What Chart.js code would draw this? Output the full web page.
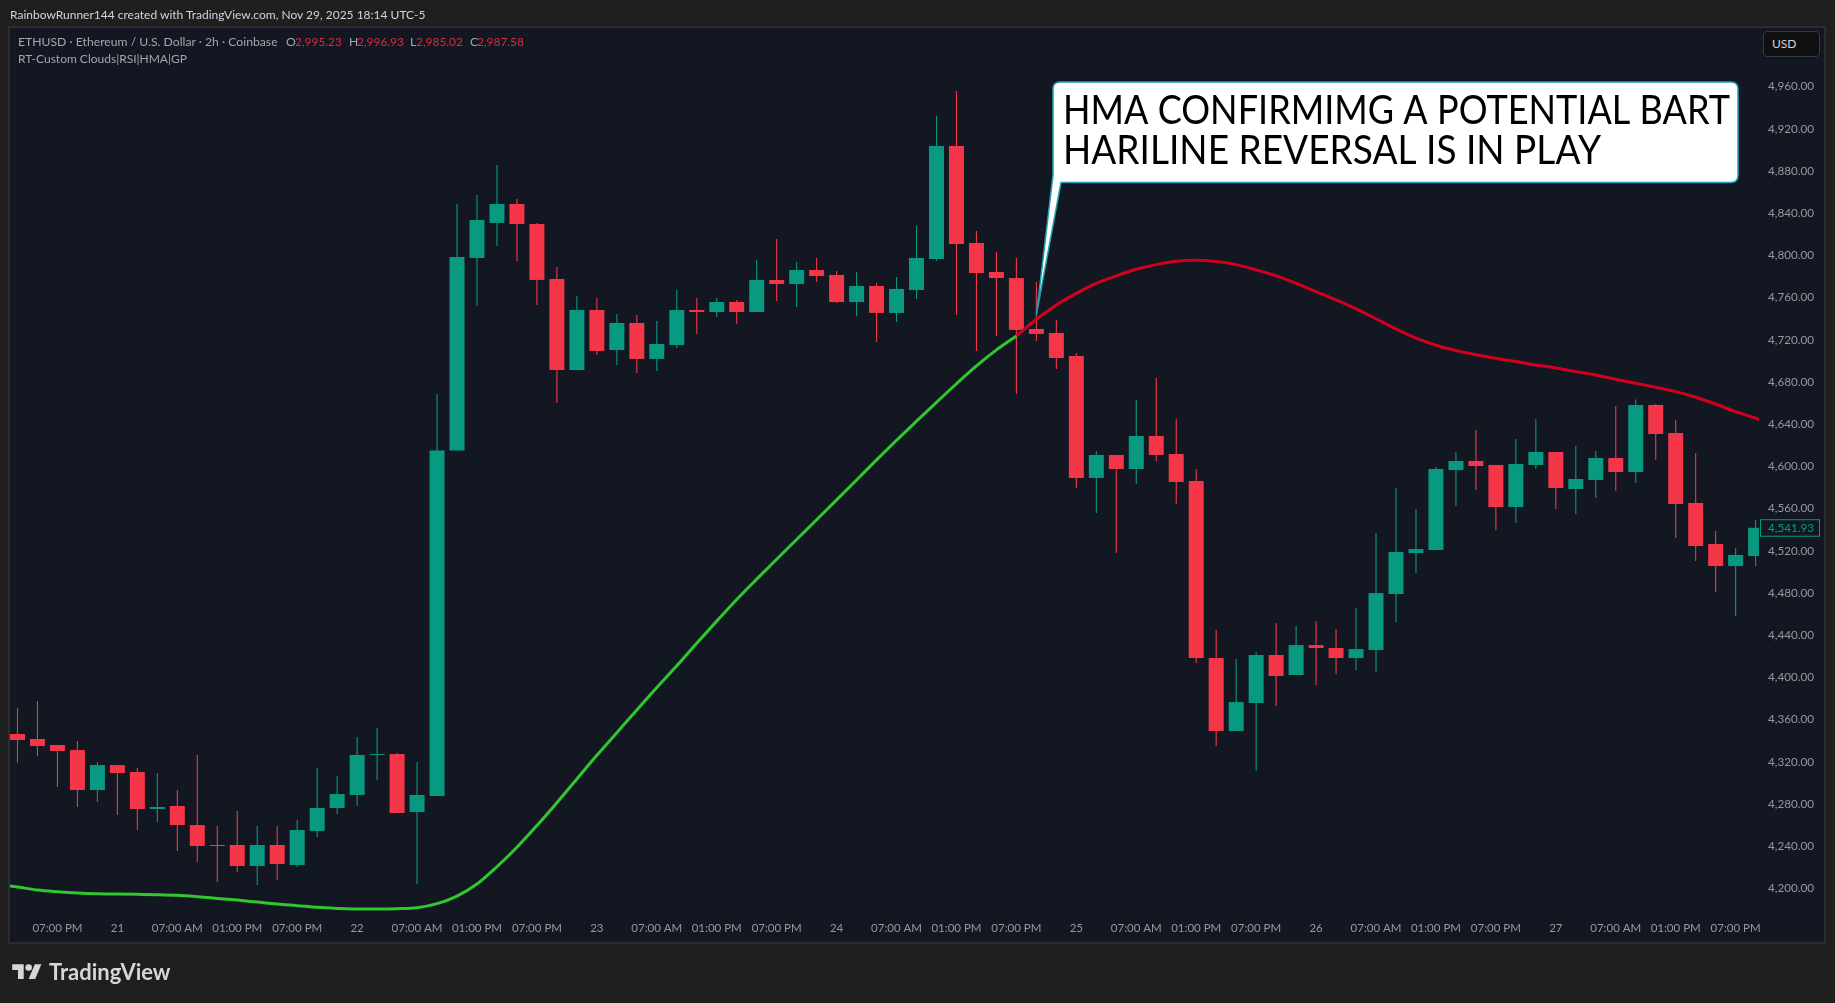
<!DOCTYPE html>
<html>
<head>
<meta charset="utf-8">
<title>ETHUSD 2h</title>
<script src="https://cdn.jsdelivr.net/npm/chart.js@4"></script>
<style>
  html, body { margin: 0; padding: 0; background: #1f1f1f; width: 1835px; height: 1003px; overflow: hidden; }
  body { font-family: Lato, sans-serif; position: relative; }
  canvas { position: absolute; left: 0; top: 0; }
  .txt { position: absolute; white-space: pre; line-height: 16px; }
  #author { left: 10px; top: 7px; font-size: 12px; color: #d1d4dc; }
  .leg { top: 34px; font-size: 12.2px; color: #a3a6af; }
  .val { top: 34px; font-size: 11.9px; color: #d92d3e; }
  #legend2 { left: 18px; top: 51px; font-size: 12px; color: #a3a6af; }
  #usd { left: 1763px; top: 31px; width: 57px; height: 26px; box-sizing: border-box; background: #0f0f0f; border: 1px solid #363a45; border-radius: 4px; color: #d1d4dc; font-size: 12px; line-height: 24px; padding-left: 8px; }
  #brand { left: 49px; top: 960px; font-size: 22px; line-height: 24px; font-weight: 700; color: #d6d6d6; }
  #logo { position: absolute; left: 12px; top: 961px; }
</style>
</head>
<body>
<canvas id="chart" width="1835" height="1003"></canvas>
<div class="txt" id="author">RainbowRunner144 created with TradingView.com, Nov 29, 2025 18:14 UTC-5</div>
<div class="txt leg" style="left:18px">ETHUSD · Ethereum / U.S. Dollar · 2h · Coinbase</div>
<div class="txt leg" style="left:286px">O</div><div class="txt val" style="left:295px">2,995.23</div>
<div class="txt leg" style="left:349px">H</div><div class="txt val" style="left:357px">2,996.93</div>
<div class="txt leg" style="left:410px">L</div><div class="txt val" style="left:416px">2,985.02</div>
<div class="txt leg" style="left:470px">C</div><div class="txt val" style="left:477px">2,987.58</div>
<div class="txt" id="legend2">RT-Custom Clouds|RSI|HMA|GP</div>
<div class="txt" id="usd">USD</div>
<svg id="logo" width="30" height="23" viewBox="0 0 36 28" fill="#d6d6d6"><path d="M14 22H7V11H0V4h14v18zM28 22h-8l7.5-18h8L28 22z"/><circle cx="20" cy="8" r="4"/></svg>
<div class="txt" id="brand">TradingView</div>
<script>
const opens = [4346.4,4341.7,4336.0,4331.2,4293.3,4317.0,4310.4,4275.3,4278.2,4260.1,4241.2,4241.2,4221.3,4241.2,4222.2,4254.4,4276.3,4288.6,4326.5,4327.4,4272.5,4287.6,
  4615.1,4797.6,4830.8,4848.8,4829.8,4777.7,4691.4,4748.3,4710.4,4736.0,4701.9,4715.1,4748.3,4746.4,4755.9,4746.4,4776.8,4773.0,
  4786.2,4781.5,4755.9,4771.1,4745.5,4767.3,4796.6,4903.8,4811.8,4784.3,4778.6,4730.3,
  4726.5,4704.7,4589.1,4610.9,4597.6,4628.9,4611.8,4586.2,4418.4,4349.2,4375.8,4421.3,4402.3,4430.7,4427.9,4418.4,4426.0,4479.1,4517.9,4520.8,4596.6,
  4605.2,4601.4,4561.6,4601.4,4613.7,4578.6,4587.2,4608.0,4594.7,4658.3,4631.7,4565.4,4526.5,4505.6,4515.1];
const highs = [4371.1,4377.7,4336.0,4339.8,4319.9,4317.0,4314.2,4309.4,4293.3,4326.5,4259.2,4273.4,4259.2,4259.2,4264.9,4314.2,4306.6,4343.6,4352.1,4328.4,4319.9,4668.7,
  4848.8,4857.3,4885.8,4853.5,4830.8,4789.1,4761.6,4759.7,4744.5,4743.6,4737.9,4767.3,4759.7,4759.7,4757.8,4795.7,4815.6,4793.8,
  4797.6,4785.3,4784.3,4773.9,4779.6,4827.9,4932.2,4955.9,4823.2,4803.3,4797.6,4774.9,
  4738.8,4707.6,4614.7,4610.9,4663.0,4683.9,4645.0,4597.6,4445.0,4417.5,4424.1,4451.6,4448.8,4453.5,4445.9,4465.8,4536.9,4579.6,4559.7,4599.5,4613.7,
  4634.6,4601.4,4626.0,4645.0,4613.7,4619.4,4614.7,4657.3,4663.5,4659.2,4644.0,4612.8,4538.8,4522.7,4549.2];
const lows = [4319.2,4325.6,4296.2,4277.2,4281.9,4269.6,4255.4,4263.0,4235.5,4225.1,4206.1,4215.6,4203.3,4208.0,4220.3,4248.8,4270.6,4278.2,4302.8,4271.5,4204.2,4287.6,
  4615.1,4752.1,4809.0,4794.8,4753.1,4660.2,4691.4,4705.7,4696.2,4688.6,4690.5,4712.3,4725.6,4741.7,4735.0,4746.4,4756.9,4751.2,
  4774.9,4754.9,4742.6,4718.0,4736.9,4758.7,4794.8,4743.6,4709.4,4723.7,4668.7,4719.0,
  4692.4,4579.6,4555.9,4517.9,4583.4,4605.2,4564.4,4413.7,4335.0,4349.2,4311.3,4372.9,4402.3,4392.8,4403.3,4407.0,4405.1,4452.5,4499.0,4520.8,4562.5,
  4577.7,4539.8,4546.4,4597.6,4559.7,4554.9,4570.1,4576.7,4584.3,4606.1,4532.2,4510.4,4481.0,4458.2,4505.6];
const closes = [4340.7,4335.0,4330.3,4293.3,4317.0,4309.4,4275.3,4277.2,4260.1,4240.2,4240.2,4221.3,4241.2,4223.2,4255.4,4276.3,4289.5,4326.5,4327.4,4271.5,4288.6,4615.1,
  4798.6,4833.6,4848.8,4829.8,4776.8,4691.4,4748.3,4709.5,4736.0,4701.9,4716.1,4748.3,4746.4,4755.9,4746.4,4776.8,4773.0,4786.2,
  4780.5,4755.9,4771.1,4745.5,4768.2,4797.6,4903.8,4810.9,4783.4,4778.6,4729.4,4725.6,
  4702.8,4589.1,4610.9,4597.6,4628.9,4610.9,4585.3,4418.4,4349.2,4376.7,4421.3,4401.4,4430.7,4427.9,4418.4,4426.9,4480.0,4518.9,4521.7,4597.6,4605.2,
  4600.4,4561.6,4602.3,4613.7,4579.6,4588.1,4608.0,4594.7,4658.3,4630.8,4564.4,4524.6,4505.6,4516.1,4541.9];

// HMA, green part starts one bar before the first candle, red part starts at bar 50
const hmaUp = [4203.6,4201.4,4198.5,4196.9,4195.7,4195.0,4194.7,4194.4,4194.1,4193.5,4192.2,4190.6,4189.0,4187.1,4185.2,4183.7,4182.1,4181.1,4180.5,4180.5,4180.8,4181.8,
  4185.6,4192.8,4204.2,4220.6,4239.1,4259.6,4281.3,4303.8,4326.2,4347.7,4369.2,4390.4,4411.0,4432.4,4453.4,4473.9,4493.2,4512.1,4530.8,4549.5,4568.3,4587.2,4606.2,4624.8,4642.9,4660.8,4678.4,4695.3,4710.5,4723.7];
const hmaDown = [4723.7,4739.5,4753.1,4764.1,4773.6,4780.6,4786.9,4791.3,4794.5,4795.4,4794.2,4791.3,4786.3,4780.6,4773.6,4765.7,4757.8,4749.4,4740.0,4730.4,
  4721.6,4714.9,4709.9,4705.9,4702.5,4699.4,4696.2,4693.4,4689.9,4686.7,4682.6,4678.8,4675.0,4670.9,4665.6,4659.2,4652.0,4645.7,4640.0];

const priceTicks = [4960,4920,4880,4840,4800,4760,4720,4680,4640,4600,4560,4520,4480,4440,4400,4360,4320,4280,4240,4200];
const timeLabels = ['07:00 PM','21','07:00 AM','01:00 PM','07:00 PM','22','07:00 AM','01:00 PM','07:00 PM','23','07:00 AM','01:00 PM','07:00 PM','24','07:00 AM','01:00 PM','07:00 PM','25','07:00 AM','01:00 PM','07:00 PM','26','07:00 AM','01:00 PM','07:00 PM','27','07:00 AM','01:00 PM','07:00 PM'];
const lastPrice = 4541.93;

const UP = '#089981', DOWN = '#F43648';
const candleColors = closes.map((c, i) => c >= opens[i] ? UP : DOWN);
const PANE = '#121722';
const FONT = 'Lato';

// pane background and border behind everything
const paneBg = {
  id: 'paneBg',
  beforeDraw(chart) {
    const c = chart.ctx;
    c.save();
    c.fillStyle = PANE;
    c.fillRect(10, 28, 1814, 914);
    c.strokeStyle = '#2c2c2c';
    c.lineWidth = 2;
    c.strokeRect(9, 27, 1816, 916);
    c.restore();
  }
};

// speech bubble pointing at the HMA turn + last price tag
const overlays = {
  id: 'overlays',
  afterDraw(chart) {
    const c = chart.ctx, sx = chart.scales.x, sy = chart.scales.y;
    const tipX = sx.getPixelForValue(51), tipY = sy.getPixelForValue(4743.6);
    const l = 1053, t = 82, r = 1738, b = 182.5, rad = 7;
    c.save();
    c.beginPath();
    c.moveTo(l + rad, t);
    c.lineTo(r - rad, t);
    c.quadraticCurveTo(r, t, r, t + rad);
    c.lineTo(r, b - rad);
    c.quadraticCurveTo(r, b, r - rad, b);
    c.lineTo(1061, b);
    c.lineTo(tipX, tipY);
    c.lineTo(l, 175);
    c.lineTo(l, t + rad);
    c.quadraticCurveTo(l, t, l + rad, t);
    c.closePath();
    c.fillStyle = '#ffffff';
    c.fill();
    c.strokeStyle = '#1f9eb3';
    c.lineWidth = 1.5;
    c.stroke();

    c.fillStyle = '#000000';
    c.font = '40px ' + FONT;
    c.textBaseline = 'alphabetic';
    c.textAlign = 'left';
    c.fillText('HMA CONFIRMIMG A POTENTIAL BART', 1063, 123.5, 667);
    c.fillText('HARILINE REVERSAL IS IN PLAY', 1063, 163.5, 538);

    // last price tag
    const y = sy.getPixelForValue(lastPrice);
    c.fillStyle = PANE;
    c.fillRect(1760.5, y - 8, 59, 16.5);
    c.strokeStyle = UP;
    c.lineWidth = 1;
    c.strokeRect(1760.5, y - 8, 59, 16.5);
    c.fillStyle = UP;
    c.font = '11.7px ' + FONT;
    c.textBaseline = 'middle';
    c.fillText(lastPrice.toLocaleString('en-US', { minimumFractionDigits: 2 }), 1768, y + 0.5);
    c.restore();
  }
};

new Chart(document.getElementById('chart'), {
  type: 'bar',
  data: {
    datasets: [
      {
        type: 'line', label: 'HMA up', order: 0, borderColor: '#2FC92F', borderWidth: 3, pointRadius: 0, cubicInterpolationMode: 'monotone',
        data: hmaUp.map((y, i) => ({ x: i - 1, y }))
      },
      {
        type: 'line', label: 'HMA down', order: 0, borderColor: '#D2001F', borderWidth: 3, pointRadius: 0, cubicInterpolationMode: 'monotone',
        data: hmaDown.map((y, i) => ({ x: i + 50, y }))
      },
      {
        label: 'body', order: 1, grouped: false, barThickness: 15, inflateAmount: 0, backgroundColor: candleColors,
        data: opens.map((o, i) => ({ x: i, y: [o, closes[i]] }))
      },
      {
        label: 'wick', order: 2, grouped: false, barThickness: 1.1, inflateAmount: 0, backgroundColor: candleColors,
        data: lows.map((lo, i) => ({ x: i, y: [lo, highs[i]] }))
      }
    ]
  },
  options: {
    responsive: false,
    animation: false,
    layout: { padding: { left: 10, top: 28, right: 0, bottom: 60 } },
    plugins: { legend: { display: false }, tooltip: { enabled: false } },
    scales: {
      x: {
        type: 'linear',
        offset: false,
        min: -0.375,
        max: 87.17,
        grid: { display: false, drawTicks: false },
        border: { display: false },
        afterBuildTicks: s => { s.ticks = timeLabels.map((_, i) => ({ value: 2 + 3 * i })); },
        afterFit: s => { s.height = 27; },
        ticks: {
          autoSkip: false, maxRotation: 0, minRotation: 0, padding: 5, color: '#9598a1',
          font: { family: FONT, size: 11.5 },
          callback: (v, i) => timeLabels[i]
        }
      },
      y: {
        position: 'right',
        min: 4173.9,
        max: 5015.6,
        grid: { display: false, drawTicks: false },
        border: { display: false },
        afterBuildTicks: s => { s.ticks = priceTicks.map(v => ({ value: v })); },
        afterFit: s => { s.width = 76; },
        ticks: {
          padding: 9, color: '#9598a1',
          font: { family: FONT, size: 11.7 },
          callback: v => v.toLocaleString('en-US', { minimumFractionDigits: 2 })
        }
      }
    }
  },
  plugins: [paneBg, overlays]
});
</script>
</body>
</html>
